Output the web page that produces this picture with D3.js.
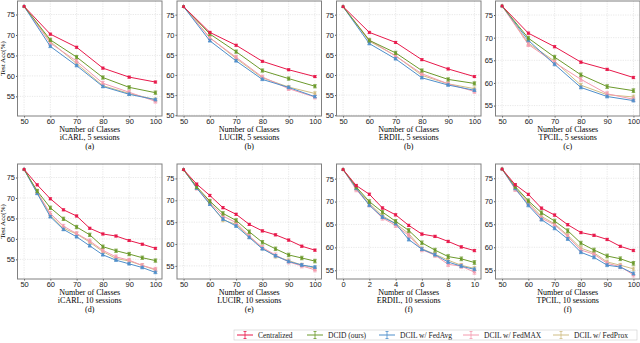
<!DOCTYPE html>
<html>
<head>
<meta charset="utf-8">
<script src="https://cdn.jsdelivr.net/npm/d3@7"></script>
<style>
  body { margin: 0; background: #fff; }
  svg { font-family: "Liberation Serif", "Times New Roman", serif; }
  .grid line { stroke: #d9d9d9; stroke-width: 0.6; stroke-dasharray: 1.2 1.2; }
  .axis path { display: none; }
  .axis line { stroke: #555; }
  .axis text { font-size: 7.5px; fill: #222; }
</style>
</head>
<body>
<div id="chart"></div>
<script>
// series names and colours
const methods = ["Centralized", "DCID (ours)", "DCIL w/ FedAvg", "DCIL w/ FedMAX", "DCIL w/ FedProx"];
const colors = ["#e8194b", "#6c9a2c", "#4f8fcb", "#f49aae", "#cfbd84"];
const errHalf = [0.25, 0.4, 0.3, 0.45, 0.4];

// x values
const classes5 = [50, 60, 70, 80, 90, 100];
const classes10 = [50, 55, 60, 65, 70, 75, 80, 85, 90, 95, 100];
const steps10 = [0, 1, 2, 3, 4, 5, 6, 7, 8, 9, 10];

// accuracy per method (order as in methods)
const icarl5 = [
  [77, 70.2, 67.0, 61.9, 59.7, 58.5],
  [77, 68.8, 64.6, 59.6, 57.2, 55.9],
  [77, 67.2, 62.5, 57.4, 55.5, 54.2],
  [77, 68.0, 63.6, 58.2, 56.0, 53.8],
  [77, 68.4, 63.0, 57.6, 55.7, 54.2]
];
const lucir5 = [
  [77, 70.6, 67.4, 63.4, 61.3, 59.6],
  [77, 70.2, 65.8, 61.1, 59.1, 57.2],
  [77, 68.5, 63.5, 58.9, 56.9, 54.6],
  [77, 69.2, 64.4, 59.5, 56.6, 54.5],
  [77, 69.3, 64.1, 59.3, 57.0, 55.4]
];
const erdil5 = [
  [77, 70.6, 68.1, 63.8, 61.5, 59.6],
  [77, 68.6, 65.5, 61.1, 58.9, 57.9],
  [77, 67.8, 64.0, 59.3, 57.5, 56.2],
  [77, 68.7, 64.7, 60.3, 57.8, 55.9],
  [77, 68.4, 64.8, 59.9, 57.8, 56.6]
];
const tpcil5 = [
  [77, 71.0, 68.0, 64.6, 63.0, 61.2],
  [77, 69.9, 65.7, 61.8, 59.2, 58.3],
  [77, 69.4, 64.1, 59.0, 57.0, 56.1],
  [77, 68.5, 64.5, 60.8, 57.6, 56.4],
  [77, 68.8, 64.8, 59.5, 57.4, 56.9]
];
const icarl10 = [
  [77, 73.2, 69.8, 67.1, 65.6, 62.6, 61.2, 60.7, 59.6, 58.7, 57.7],
  [77, 71.7, 67.6, 64.9, 62.9, 61.0, 58.1, 57.1, 56.3, 55.4, 54.7],
  [77, 71.1, 65.4, 62.3, 60.5, 58.3, 56.1, 54.8, 53.9, 53.0, 51.8],
  [77, 71.4, 66.2, 63.1, 61.3, 59.5, 57.2, 55.6, 54.8, 53.5, 52.6],
  [77, 71.5, 65.8, 62.6, 61.2, 59.2, 56.9, 55.2, 54.6, 53.5, 52.4]
];
const lucir10 = [
  [77, 73.7, 71.1, 68.3, 66.8, 64.5, 63.0, 62.1, 60.9, 59.5, 58.6],
  [77, 73.1, 69.8, 67.0, 65.4, 62.8, 60.4, 58.9, 57.5, 56.8, 56.1],
  [77, 72.8, 69.1, 65.7, 64.1, 61.5, 58.9, 57.3, 56.0, 55.2, 54.7],
  [77, 72.8, 69.5, 66.4, 64.9, 61.8, 59.2, 57.5, 55.9, 55.0, 54.1],
  [77, 72.9, 69.3, 65.5, 64.5, 61.7, 59.1, 57.2, 56.2, 55.2, 54.5]
];
const erdil10 = [
  [77, 73.5, 71.6, 68.6, 67.1, 64.8, 62.9, 62.4, 61.3, 60.1, 59.3],
  [77, 73.2, 70.0, 67.7, 65.7, 63.7, 61.0, 59.4, 58.0, 57.5, 56.7],
  [77, 72.9, 69.2, 66.6, 65.2, 61.7, 59.6, 58.4, 56.8, 55.9, 55.2],
  [77, 72.6, 69.3, 66.4, 64.8, 62.6, 59.5, 58.3, 56.3, 55.9, 54.6],
  [77, 73.0, 69.6, 66.9, 65.2, 63.0, 59.7, 58.5, 57.2, 56.1, 55.4]
];
const tpcil10 = [
  [77, 73.6, 71.5, 68.5, 67.0, 64.9, 63.2, 62.6, 61.7, 60.2, 59.3],
  [77, 73.2, 70.1, 67.5, 65.7, 63.6, 60.9, 59.4, 58.1, 57.5, 56.5],
  [77, 72.8, 69.1, 66.0, 64.1, 61.8, 58.9, 57.8, 56.1, 55.7, 54.3],
  [77, 72.6, 69.5, 66.3, 64.9, 62.3, 59.4, 58.5, 56.5, 55.8, 54.0],
  [77, 72.9, 69.8, 66.7, 65.1, 62.6, 59.8, 58.8, 56.8, 56.1, 55.3]
];

// tick labels
const ticks5 = [50, 60, 70, 80, 90, 100];
const ticksSteps = [0, 2, 4, 6, 8, 10];
const yTicks = [50, 55, 60, 65, 70, 75];

const panels = [
  {row: 0, col: 0, xs: classes5, data: icarl5, xt: ticks5, yd: [50.2, 78.3], sub: "iCARL, 5 sessions", tag: "(a)"},
  {row: 0, col: 1, xs: classes5, data: lucir5, xt: ticks5, yd: [49.8, 78.4], sub: "LUCIR, 5 sessions", tag: "(b)"},
  {row: 0, col: 2, xs: classes5, data: erdil5, xt: ticks5, yd: [49.8, 78.4], sub: "ERDIL, 5 sessions", tag: "(b)"},
  {row: 0, col: 3, xs: classes5, data: tpcil5, xt: ticks5, yd: [52.7, 78.1], sub: "TPCIL, 5 sessions", tag: "(c)"},
  {row: 1, col: 0, xs: classes10, data: icarl10, xt: ticks5, yd: [50.2, 78.3], sub: "iCARL, 10 sessions", tag: "(d)"},
  {row: 1, col: 1, xs: classes10, data: lucir10, xt: ticks5, yd: [52.0, 78.3], sub: "LUCIR, 10 sessions", tag: "(e)"},
  {row: 1, col: 2, xs: steps10, data: erdil10, xt: ticksSteps, yd: [53.1, 78.2], sub: "ERDIL, 10 sessions", tag: "(f)"},
  {row: 1, col: 3, xs: classes10, data: tpcil10, xt: ticks5, yd: [53.1, 78.1], sub: "TPCIL, 10 sessions", tag: "(f)"}
];

// layout (pixels)
const W = 640, H = 343;
const colLeft = [17.5, 177, 336.5, 495.5],
    panelW = 144.5,
    rowTop = [1, 164],
    panelH = [115, 115];

const symbols = [d3.symbolSquare, d3.symbolSquare, d3.symbolTriangle, d3.symbolTriangle, d3.symbolDiamond];

const svg = d3.select("#chart").append("svg")
    .attr("width", W)
    .attr("height", H);

panels.forEach(function(p) {
    const x0 = colLeft[p.col], y0 = rowTop[p.row], h = panelH[p.row];
    const xMin = d3.min(p.xs), xMax = d3.max(p.xs), pad = (xMax - xMin) * 0.05;
    const x = d3.scaleLinear().domain([xMin - pad, xMax + pad]).range([0, panelW]);
    const y = d3.scaleLinear().domain(p.yd).range([h, 0]);
    const yt = yTicks.filter(function(t) { return t >= p.yd[0] && t <= p.yd[1]; });

    const g = svg.append("g").attr("transform", "translate(" + x0 + "," + y0 + ")");

    // grid
    g.append("g").attr("class", "grid")
        .selectAll("line.v").data(p.xt).enter().append("line")
        .attr("x1", x).attr("x2", x).attr("y1", 0).attr("y2", h);
    g.append("g").attr("class", "grid")
        .selectAll("line.h").data(yt).enter().append("line")
        .attr("x1", 0).attr("x2", panelW).attr("y1", y).attr("y2", y);

    // axes
    g.append("g").attr("class", "axis")
        .attr("transform", "translate(0," + h + ")")
        .call(d3.axisBottom(x).tickValues(p.xt).tickSize(1.5).tickPadding(1).tickFormat(d3.format("d")));
    g.append("g").attr("class", "axis")
        .call(d3.axisLeft(y).tickValues(yt).tickSize(1.5).tickPadding(1).tickFormat(d3.format("d")));

    // series, drawn back to front
    const order = [4, 3, 2, 1, 0];
    order.forEach(function(k) {
        const vals = p.data[k];
        const pts = vals.map(function(v, i) { return [p.xs[i], v]; });
        const sg = g.append("g");
        sg.append("path")
            .datum(pts)
            .attr("fill", "none")
            .attr("stroke", colors[k])
            .attr("stroke-width", 1)
            .attr("d", d3.line().x(function(d) { return x(d[0]); }).y(function(d) { return y(d[1]); }));
        // error bars
        const eb = sg.selectAll("g.eb").data(pts.slice(1)).enter().append("g")
            .attr("stroke", colors[k]).attr("stroke-width", 0.8);
        eb.append("line")
            .attr("x1", function(d) { return x(d[0]); }).attr("x2", function(d) { return x(d[0]); })
            .attr("y1", function(d) { return y(d[1] - errHalf[k]); })
            .attr("y2", function(d) { return y(d[1] + errHalf[k]); });
        [-1, 1].forEach(function(s) {
            eb.append("line")
                .attr("x1", function(d) { return x(d[0]) - 1.8; }).attr("x2", function(d) { return x(d[0]) + 1.8; })
                .attr("y1", function(d) { return y(d[1] + s * errHalf[k]); })
                .attr("y2", function(d) { return y(d[1] + s * errHalf[k]); });
        });
        sg.selectAll("path.m").data(pts).enter().append("path")
            .attr("transform", function(d) { return "translate(" + x(d[0]) + "," + y(d[1]) + ")"; })
            .attr("d", d3.symbol().type(symbols[k]).size(7))
            .attr("fill", colors[k]);
    });

    // frame
    g.append("rect")
        .attr("width", panelW).attr("height", h)
        .attr("fill", "none").attr("stroke", "#808080").attr("stroke-width", 1);

    // labels under the axis
    const cx = panelW / 2;
    g.append("text").attr("x", cx).attr("y", h + 16).attr("text-anchor", "middle")
        .style("font-size", "8px").text("Number of Classes");
    g.append("text").attr("x", cx).attr("y", h + 24).attr("text-anchor", "middle")
        .style("font-size", "8px").text(p.sub);
    g.append("text").attr("x", cx).attr("y", h + 32.5).attr("text-anchor", "middle")
        .style("font-size", "8px").text(p.tag);

    if (p.col === 0) {
        g.append("text")
            .attr("transform", "translate(" + (5.3 - x0) + "," + (h / 2) + ") rotate(-90)")
            .attr("text-anchor", "middle")
            .style("font-size", "7px")
            .text("Test Acc(%)");
    }
});

// legend
const legX = [237, 307, 379, 463, 553];
const legY = 335;
const leg = svg.append("g");
leg.append("rect")
    .attr("x", 234).attr("y", 330).attr("width", 403).attr("height", 10)
    .attr("fill", "#fff").attr("stroke", "#ccc").attr("stroke-width", 0.6);
methods.forEach(function(m, k) {
    const lg = leg.append("g").attr("stroke", colors[k]);
    lg.append("line").attr("x1", legX[k]).attr("x2", legX[k] + 16).attr("y1", legY).attr("y2", legY).attr("stroke-width", 1);
    lg.append("line").attr("x1", legX[k] + 8).attr("x2", legX[k] + 8).attr("y1", legY - 3.5).attr("y2", legY + 3.5).attr("stroke-width", 0.8);
    lg.append("line").attr("x1", legX[k] + 6.5).attr("x2", legX[k] + 9.5).attr("y1", legY - 3.5).attr("y2", legY - 3.5).attr("stroke-width", 0.8);
    lg.append("line").attr("x1", legX[k] + 6.5).attr("x2", legX[k] + 9.5).attr("y1", legY + 3.5).attr("y2", legY + 3.5).attr("stroke-width", 0.8);
    leg.append("text").attr("x", legX[k] + 21).attr("y", legY + 2.7)
        .style("font-size", "7.5px").attr("fill", "#222").text(m);
});
</script>
</body>
</html>
